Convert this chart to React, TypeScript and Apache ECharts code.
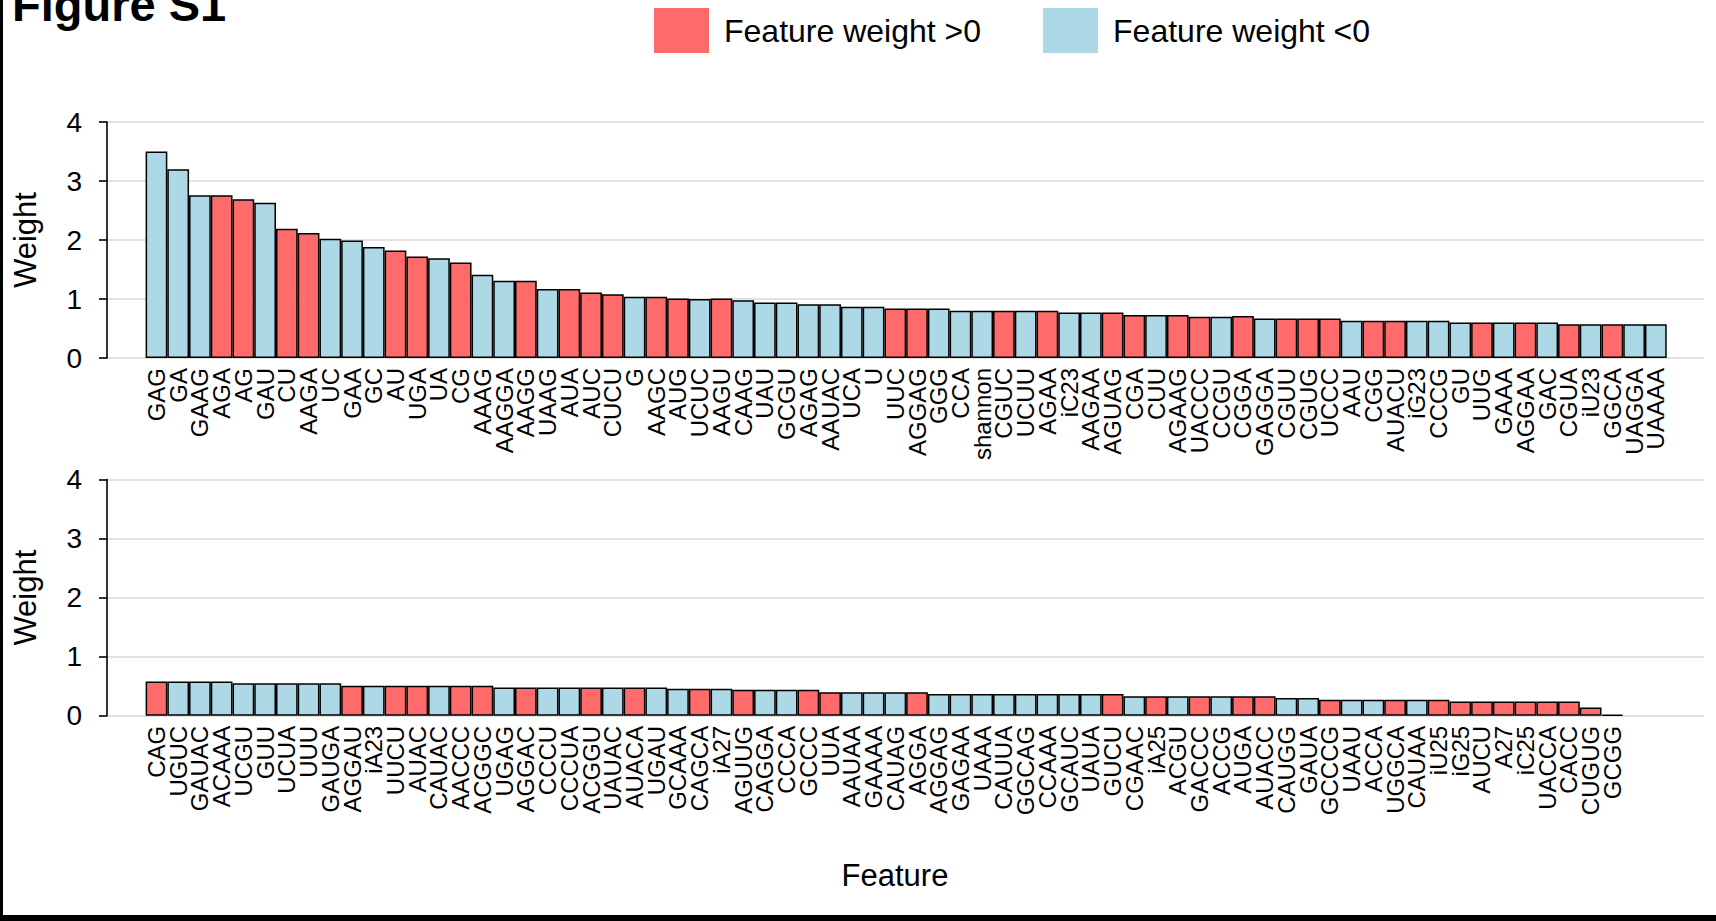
import React, { useEffect, useRef } from "react";
import * as echarts from "echarts";

const topFeatures = [
  "GAG", "GA", "GAAG", "AGA", "AG", "GAU", "CU", "AAGA", "UC", "GAA",
  "GC", "AU", "UGA", "UA", "CG", "AAAG", "AAGGA", "AAGG", "UAAG", "AUA",
  "AUC", "CUCU", "G", "AAGC", "AUG", "UCUC", "AAGU", "CAAG", "UAU", "GCGU",
  "AGAG", "AAUAC", "UCA", "U", "UUC", "AGGAG", "GGG", "CCA", "shannon", "CGUC",
  "UCUU", "AGAA", "iC23", "AAGAA", "AGUAG", "CGA", "CUU", "AGAAG", "UACCC", "CCGU",
  "CGGA", "GAGGA", "CGUU", "CGUG", "UCCC", "AAU", "CGG", "AUACU", "iG23", "CCCG",
  "GU", "UUG", "GAAA", "AGGAA", "GAC", "CGUA", "iU23", "GGCA", "UAGGA", "UAAAA",
];
const topWeights = [
  3.50, 3.20, 2.76, 2.76, 2.69, 2.63, 2.19, 2.12, 2.02, 1.99,
  1.88, 1.82, 1.72, 1.69, 1.62, 1.41, 1.31, 1.31, 1.17, 1.17,
  1.11, 1.08, 1.04, 1.04, 1.01, 1.00, 1.01, 0.98, 0.94, 0.94,
  0.91, 0.91, 0.87, 0.87, 0.84, 0.84, 0.84, 0.80, 0.80, 0.80,
  0.80, 0.80, 0.77, 0.77, 0.77, 0.73, 0.73, 0.73, 0.70, 0.70,
  0.71, 0.67, 0.67, 0.67, 0.67, 0.63, 0.63, 0.63, 0.63, 0.63,
  0.60, 0.60, 0.60, 0.60, 0.60, 0.57, 0.57, 0.57, 0.57, 0.57,
];
const topSigns = [
  "-", "-", "-", "+", "+", "-", "+", "+", "-", "-",
  "-", "+", "+", "-", "+", "-", "-", "+", "-", "+",
  "+", "+", "-", "+", "+", "-", "+", "-", "-", "-",
  "-", "-", "-", "-", "+", "+", "-", "-", "-", "+",
  "-", "+", "-", "-", "+", "+", "-", "+", "+", "-",
  "+", "-", "+", "+", "+", "-", "+", "+", "-", "-",
  "-", "+", "-", "+", "-", "+", "-", "+", "-", "-",
];

const bottomFeatures = [
  "CAG", "UGUC", "GAUAC", "ACAAA", "UCGU", "GUU", "UCUA", "UUU", "GAUGA", "AGGAU",
  "iA23", "UUCU", "AUAC", "CAUAC", "AACCC", "ACGGC", "UGAG", "AGGAC", "CCCU", "CCCUA",
  "ACGGU", "UAUAC", "AUACA", "UGAU", "GCAAA", "CAGCA", "iA27", "AGUUG", "CAGGA", "CCCA",
  "GCCC", "UUA", "AAUAA", "GAAAA", "CAUAG", "AGGA", "AGGAG", "GAGAA", "UAAA", "CAUUA",
  "GGCAG", "CCAAA", "GCAUC", "UAUA", "GUCU", "CGAAC", "iA25", "ACGU", "GACCC", "ACCG",
  "AUGA", "AUACC", "CAUGG", "GAUA", "GCCCG", "UAAU", "ACCA", "UGGCA", "CAUAA", "iU25",
  "iG25", "AUCU", "A27", "iC25", "UACCA", "CACC", "CUGUG", "GCGG",
];
const bottomWeights = [
  0.58, 0.58, 0.58, 0.58, 0.55, 0.55, 0.55, 0.55, 0.55, 0.51,
  0.51, 0.51, 0.51, 0.51, 0.51, 0.51, 0.48, 0.48, 0.48, 0.48,
  0.48, 0.48, 0.48, 0.48, 0.46, 0.46, 0.46, 0.44, 0.44, 0.44,
  0.44, 0.40, 0.40, 0.40, 0.40, 0.40, 0.37, 0.37, 0.37, 0.37,
  0.37, 0.37, 0.37, 0.37, 0.37, 0.33, 0.33, 0.33, 0.33, 0.33,
  0.33, 0.33, 0.30, 0.30, 0.27, 0.27, 0.27, 0.27, 0.27, 0.27,
  0.24, 0.24, 0.24, 0.24, 0.24, 0.24, 0.14, 0.02,
];
const bottomSigns = [
  "+", "-", "-", "-", "-", "-", "-", "-", "-", "+",
  "-", "+", "+", "-", "+", "+", "-", "+", "-", "-",
  "+", "-", "+", "-", "-", "+", "-", "+", "-", "-",
  "+", "+", "-", "-", "-", "+", "-", "-", "-", "-",
  "-", "-", "-", "-", "+", "-", "+", "-", "+", "-",
  "+", "+", "-", "-", "+", "-", "-", "+", "-", "+",
  "+", "+", "+", "+", "+", "+", "+", "+",
];

const slotsPerRow = 70;
const yMin = 0;
const yMax = 4;
const yStep = 1;

const POS_NAME = "Feature weight >0";
const NEG_NAME = "Feature weight <0";
const POS_COLOR = "#FF6A6A";
const NEG_COLOR = "#ADD8E6";
const FONT = "'Liberation Sans', Arial, Helvetica, sans-serif";

export default function App() {
  const ref = useRef<HTMLDivElement>(null);

  useEffect(() => {
    if (!ref.current) return;
    const chart = echarts.init(ref.current, null, { renderer: "svg" });

    const axisX = 107;
    const plotRight = 1716 - 1704;
    const barLeft = 145.6;
    const slot = 21.73;
    const barRight = 1716 - (barLeft + slot * slotsPerRow);
    const panels = [
      { top: 122, height: 236 },
      { top: 479.5, height: 236.3 },
    ];

    const padCats = (arr: string[]) => {
      const out = arr.slice();
      while (out.length < slotsPerRow) out.push("");
      return out;
    };
    const split = (w: number[], s: string[], sign: string) =>
      w.map((v, i) => (s[i] === sign ? v : "-"));

    const grids: any[] = [];
    const xAxes: any[] = [];
    const yAxes: any[] = [];
    const series: any[] = [];

    const rows = [
      { cats: padCats(topFeatures), w: topWeights, s: topSigns },
      { cats: padCats(bottomFeatures), w: bottomWeights, s: bottomSigns },
    ];

    rows.forEach((row, r) => {
      const p = panels[r];
      grids.push({ left: axisX, right: plotRight, top: p.top, height: p.height });
      grids.push({ left: barLeft, right: barRight, top: p.top, height: p.height });
      const bgIdx = r * 2;
      const barIdx = r * 2 + 1;

      xAxes.push({
        gridIndex: bgIdx,
        type: "value",
        min: 0,
        max: 1,
        show: false,
      });
      yAxes.push({
        gridIndex: bgIdx,
        type: "value",
        min: yMin,
        max: yMax,
        interval: yStep,
        name: "Weight",
        nameLocation: "middle",
        nameRotate: 90,
        nameGap: 66,
        nameTextStyle: { fontSize: 31, color: "#000", fontFamily: FONT },
        axisLine: { show: true, lineStyle: { color: "#000", width: 1.6 } },
        axisTick: { show: true, length: 8, lineStyle: { color: "#000", width: 1.6 } },
        axisLabel: { fontSize: 28, color: "#000", fontFamily: FONT, margin: 25 },
        splitLine: { show: true, lineStyle: { color: "#D9D9D9", width: 1.5 } },
      });

      xAxes.push({
        gridIndex: barIdx,
        type: "category",
        data: row.cats,
        boundaryGap: true,
        axisLine: { show: false },
        axisTick: { show: false },
        axisLabel: {
          interval: 0,
          rotate: 90,
          fontSize: 24,
          color: "#000",
          fontFamily: FONT,
          margin: 10,
        },
        splitLine: { show: false },
      });
      yAxes.push({
        gridIndex: barIdx,
        type: "value",
        min: yMin,
        max: yMax,
        show: false,
        splitLine: { show: false },
      });

      [
        { name: POS_NAME, sign: "+", color: POS_COLOR },
        { name: NEG_NAME, sign: "-", color: NEG_COLOR },
      ].forEach((ser) => {
        series.push({
          type: "bar",
          name: ser.name,
          xAxisIndex: barIdx,
          yAxisIndex: barIdx,
          data: split(row.w, row.s, ser.sign),
          barWidth: "100%",
          barGap: "-100%",
          itemStyle: { color: ser.color, borderColor: "#000", borderWidth: 1.5 },
          emphasis: { disabled: true },
          silent: true,
        });
      });
    });

    chart.setOption({
      animation: false,
      backgroundColor: "#fff",
      textStyle: { fontFamily: FONT },
      grid: grids,
      xAxis: xAxes,
      yAxis: yAxes,
      series,
      legend: {
        data: [POS_NAME, NEG_NAME],
        left: 654,
        top: 8,
        padding: 0,
        icon: "rect",
        itemWidth: 55,
        itemHeight: 45,
        itemGap: 62,
        itemStyle: { borderWidth: 0 },
        selectedMode: false,
        textStyle: { fontSize: 32, color: "#000", fontFamily: FONT, padding: [0, 0, 0, 10] },
      },
      graphic: [
        {
          type: "text",
          x: 12,
          y: 4,
          style: {
            text: "Figure S1",
            fill: "#000",
            font: `bold 47px ${FONT}`,
            verticalAlign: "middle",
            align: "left",
          },
        },
        {
          type: "text",
          x: 895,
          y: 875,
          style: {
            text: "Feature",
            fill: "#000",
            font: `31px ${FONT}`,
            verticalAlign: "middle",
            align: "center",
          },
        },
        { type: "rect", shape: { x: 0, y: 0, width: 3, height: 921 }, style: { fill: "#000" } },
        { type: "rect", shape: { x: 0, y: 915, width: 1716, height: 6 }, style: { fill: "#000" } },
      ],
    });

    return () => chart.dispose();
  }, []);

  return (
    <div
      ref={ref}
      style={{ position: "fixed", left: 0, top: 0, width: 1716, height: 921, background: "#fff" }}
    />
  );
}
